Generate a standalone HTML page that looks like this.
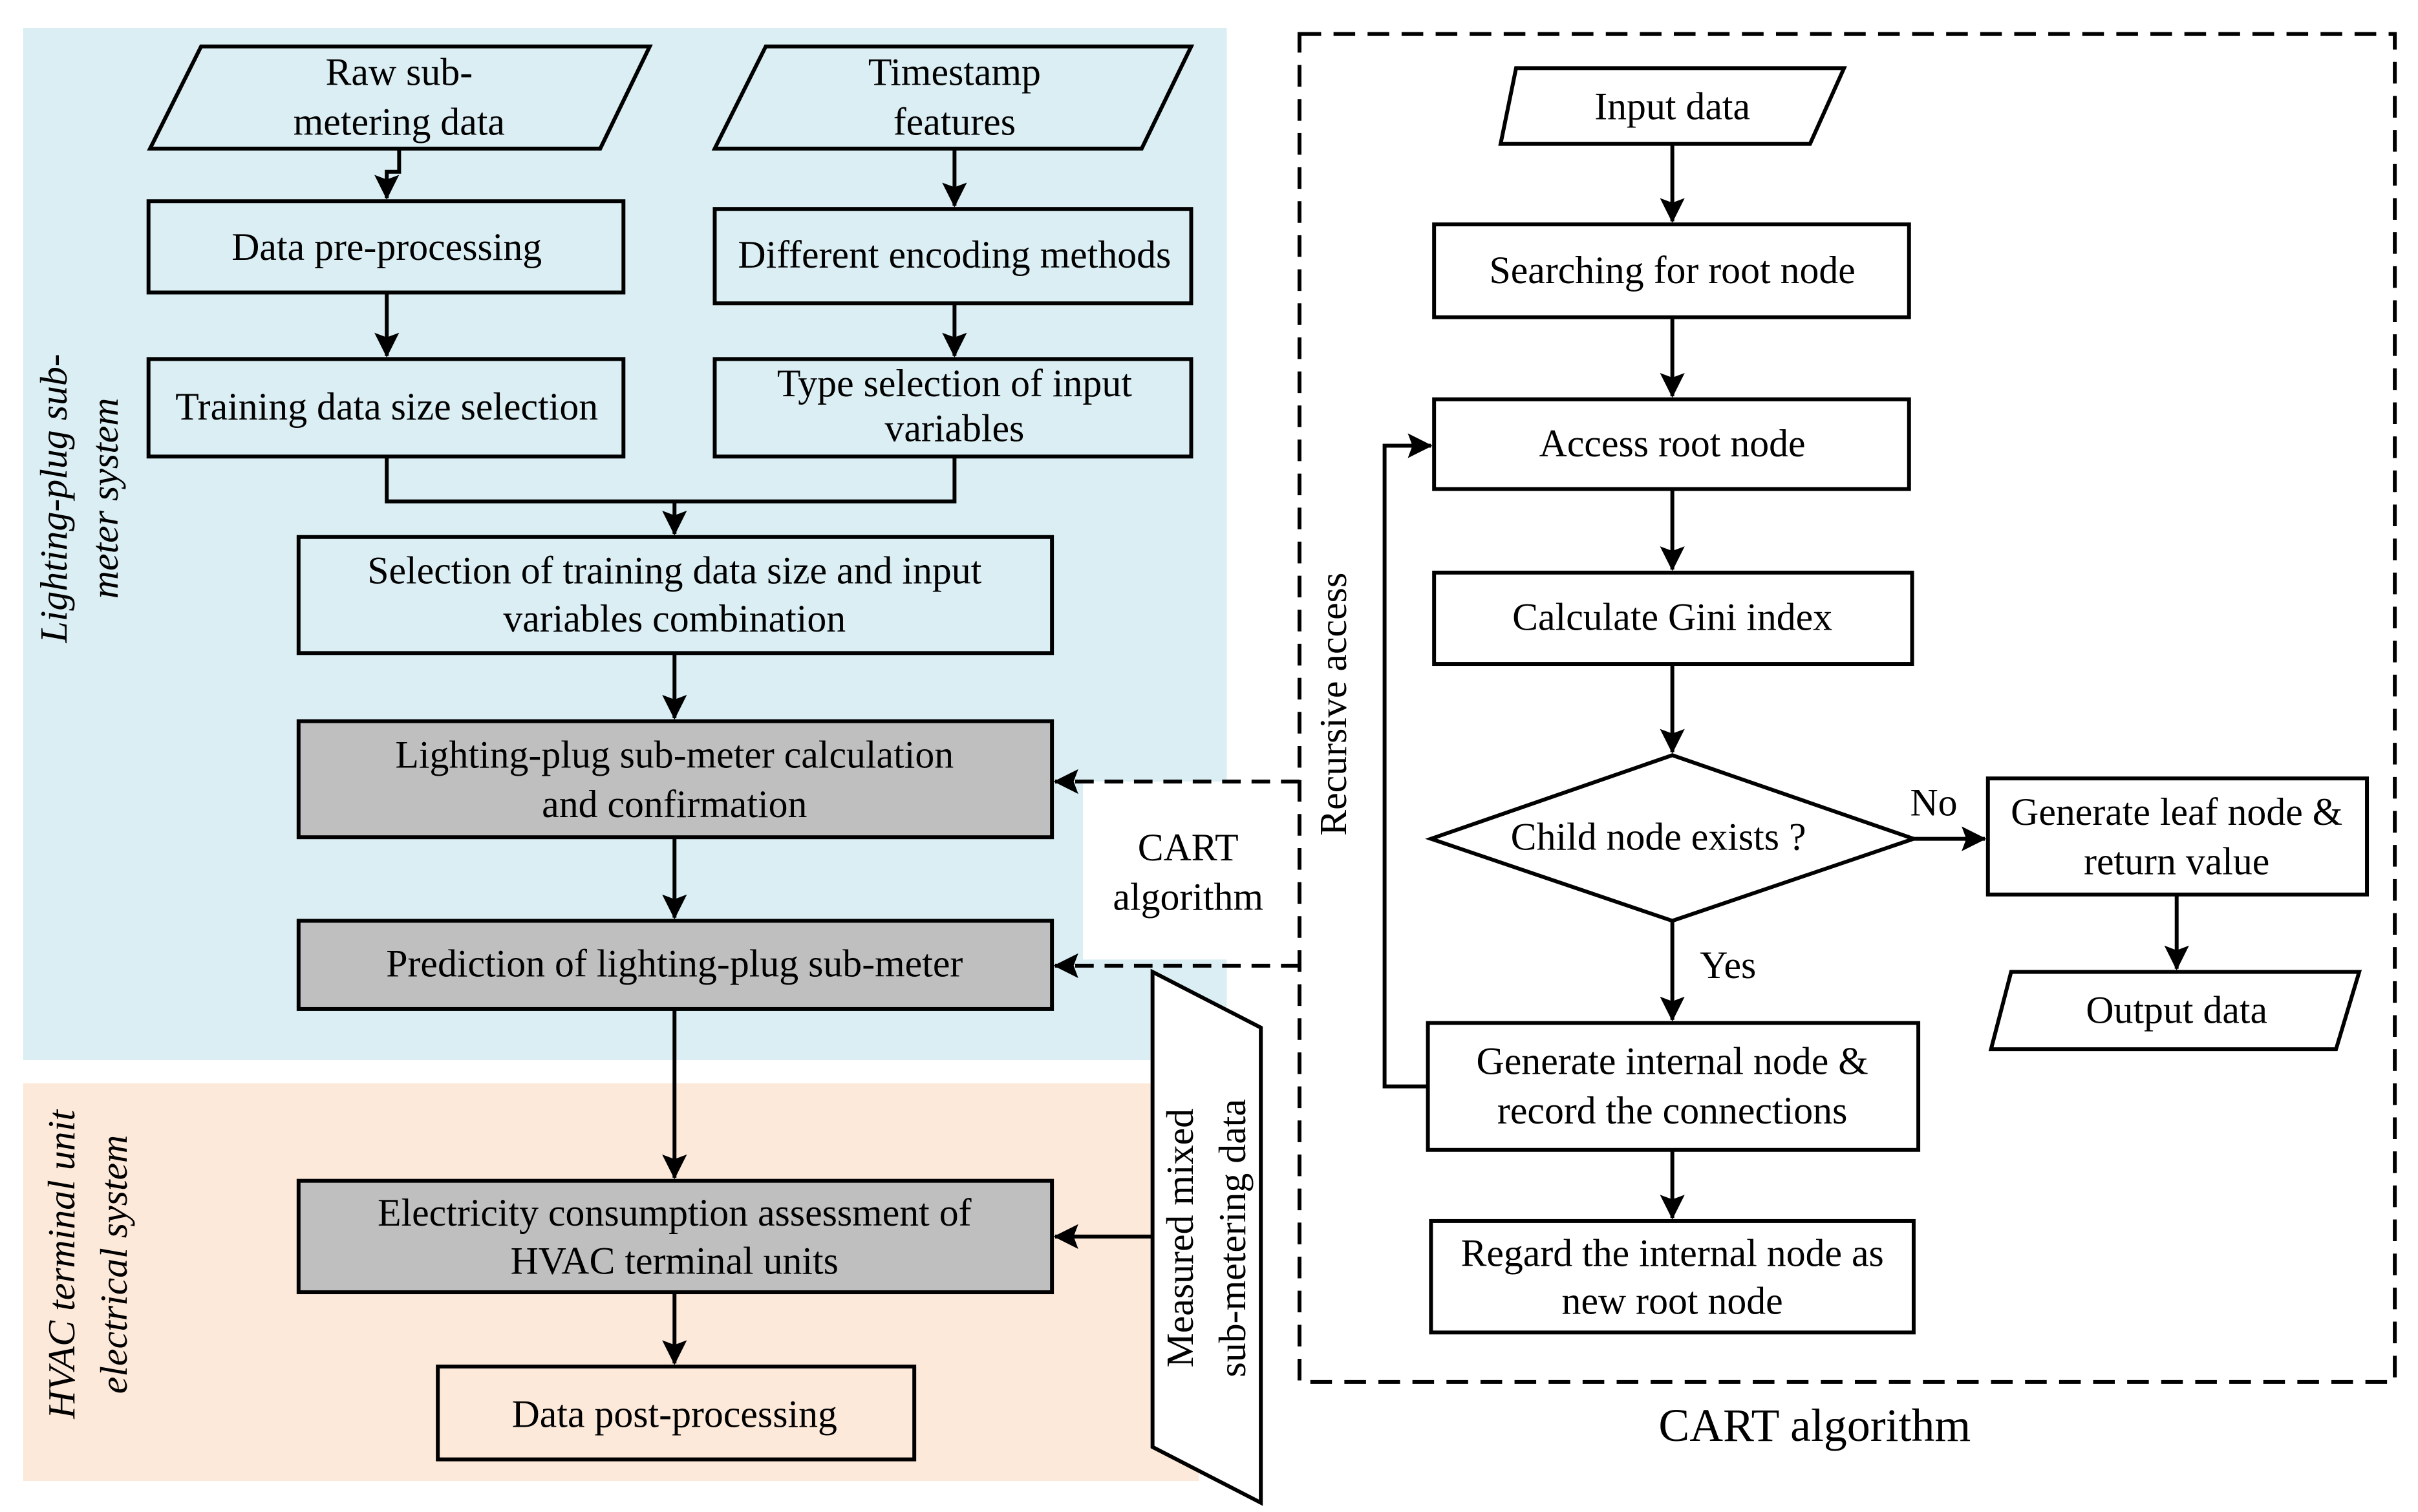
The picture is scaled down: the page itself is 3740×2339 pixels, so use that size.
<!DOCTYPE html>
<html><head><meta charset="utf-8"><style>
html,body{margin:0;padding:0;background:#fff;}
svg{display:block;}
</style></head><body>
<svg width="3740" height="2339" viewBox="0 0 1563 977" preserveAspectRatio="none" xmlns="http://www.w3.org/2000/svg" font-family="'Liberation Serif', 'Times New Roman', serif" font-size="25">
<defs>
<marker id="b" viewBox="0 0 16 16" markerWidth="16" markerHeight="16" refX="15" refY="8" orient="auto" markerUnits="userSpaceOnUse"><path d="M0,0 L16,8 L0,16 L3,8 z" fill="#000"/></marker>
</defs>
<rect x="15" y="18" width="778" height="667" fill="#daeef3"/>
<rect x="15" y="700" width="760" height="257" fill="#fde9d9"/>
<rect x="700" y="505" width="140" height="115" fill="#fff"/>

<g fill="none" stroke="#000" stroke-width="2.5">
<polygon points="130,30 420,30 388,96 97,96"/>
<polygon points="495,30 770,30 738,96 462,96"/>
<rect x="96" y="130" width="307" height="59"/>
<rect x="462" y="135" width="308" height="61"/>
<rect x="96" y="232" width="307" height="63"/>
<rect x="462" y="232" width="308" height="63"/>
<rect x="193" y="347" width="487" height="75"/>
<rect x="193" y="466" width="487" height="75" fill="#bfbfbf"/>
<rect x="193" y="595" width="487" height="57" fill="#bfbfbf"/>
<rect x="193" y="763" width="487" height="72" fill="#bfbfbf"/>
<rect x="283" y="883" width="308" height="60"/>
<polygon points="745,628 815,664 815,971 745,935" fill="#fff"/>
<polyline points="258,96 258,111 250,111 250,128" marker-end="url(#b)"/>
<line x1="617" y1="96" x2="617" y2="133" marker-end="url(#b)"/>
<line x1="250" y1="189" x2="250" y2="230" marker-end="url(#b)"/>
<line x1="617" y1="196" x2="617" y2="230" marker-end="url(#b)"/>
<polyline points="250,295 250,324 617,324 617,295"/>
<line x1="436" y1="324" x2="436" y2="345" marker-end="url(#b)"/>
<line x1="436" y1="422" x2="436" y2="464" marker-end="url(#b)"/>
<line x1="436" y1="541" x2="436" y2="593" marker-end="url(#b)"/>
<line x1="436" y1="652" x2="436" y2="761" marker-end="url(#b)"/>
<line x1="436" y1="835" x2="436" y2="881" marker-end="url(#b)"/>
<line x1="745" y1="799" x2="682" y2="799" marker-end="url(#b)"/>
<line x1="840" y1="505" x2="682" y2="505" stroke-dasharray="12,7" marker-end="url(#b)"/>
<line x1="840" y1="624" x2="682" y2="624" stroke-dasharray="12,7" marker-end="url(#b)"/>
<rect x="840" y="22" width="708" height="871" stroke-dasharray="14,8"/>

<polygon points="980,44 1192,44 1170,93 970,93"/>
<rect x="927" y="145" width="307" height="60"/>
<rect x="927" y="258" width="307" height="58"/>
<rect x="927" y="370" width="309" height="59"/>
<polygon points="925,542 1081,488 1237,542 1081,595"/>
<rect x="1285" y="503" width="245" height="75"/>
<polygon points="1300,628 1525,628 1510,678 1287,678"/>
<rect x="923" y="661" width="317" height="82"/>
<rect x="925" y="789" width="312" height="72"/>
<line x1="1081" y1="93" x2="1081" y2="143" marker-end="url(#b)"/>
<line x1="1081" y1="205" x2="1081" y2="256" marker-end="url(#b)"/>
<line x1="1081" y1="316" x2="1081" y2="368" marker-end="url(#b)"/>
<line x1="1081" y1="429" x2="1081" y2="486" marker-end="url(#b)"/>
<line x1="1237" y1="542" x2="1283" y2="542" marker-end="url(#b)"/>
<line x1="1407" y1="578" x2="1407" y2="626" marker-end="url(#b)"/>
<line x1="1081" y1="595" x2="1081" y2="659" marker-end="url(#b)"/>
<line x1="1081" y1="743" x2="1081" y2="787" marker-end="url(#b)"/>
<polyline points="923,702 895,702 895,288 925,288" marker-end="url(#b)"/>
</g>

<g text-anchor="middle" fill="#000">
<text x="258" y="55">Raw sub-</text>
<text x="258" y="87">metering data</text>
<text x="617" y="55">Timestamp</text>
<text x="617" y="87">features</text>
<text x="250" y="168">Data pre-processing</text>
<text x="617" y="173">Different encoding methods</text>
<text x="250" y="271">Training data size selection</text>
<text x="617" y="256">Type selection of input</text>
<text x="617" y="285">variables</text>
<text x="436" y="377">Selection of training data size and input</text>
<text x="436" y="408">variables combination</text>
<text x="436" y="496">Lighting-plug sub-meter calculation</text>
<text x="436" y="528">and confirmation</text>
<text x="436" y="631">Prediction of lighting-plug sub-meter</text>
<text x="436" y="792">Electricity consumption assessment of</text>
<text x="436" y="823">HVAC terminal units</text>
<text x="436" y="922">Data post-processing</text>
<text x="768" y="556">CART</text>
<text x="768" y="588">algorithm</text>
<text transform="translate(771,800) rotate(-90)">Measured mixed</text>
<text transform="translate(805,800) rotate(-90)">sub-metering data</text>
<text transform="translate(43,322) rotate(-90)" font-style="italic">Lighting-plug sub-</text>
<text transform="translate(76,322) rotate(-90)" font-style="italic">meter system</text>
<text transform="translate(48,817) rotate(-90)" font-style="italic">HVAC terminal unit</text>
<text transform="translate(82,817) rotate(-90)" font-style="italic">electrical system</text>
<text transform="translate(870,455) rotate(-90)">Recursive access</text>
<text x="1081" y="77">Input data</text>
<text x="1081" y="183">Searching for root node</text>
<text x="1081" y="295">Access root node</text>
<text x="1081" y="407">Calculate Gini index</text>
<text x="1072" y="549">Child node exists ?</text>
<text x="1250" y="527">No</text>
<text x="1117" y="632">Yes</text>
<text x="1407" y="533">Generate leaf node &amp;</text>
<text x="1407" y="565">return value</text>
<text x="1407" y="661">Output data</text>
<text x="1081" y="694">Generate internal node &amp;</text>
<text x="1081" y="726">record the connections</text>
<text x="1081" y="818">Regard the internal node as</text>
<text x="1081" y="849">new root node</text>
<text x="1173" y="931" font-size="30">CART algorithm</text>
</g>
</svg>
</body></html>
